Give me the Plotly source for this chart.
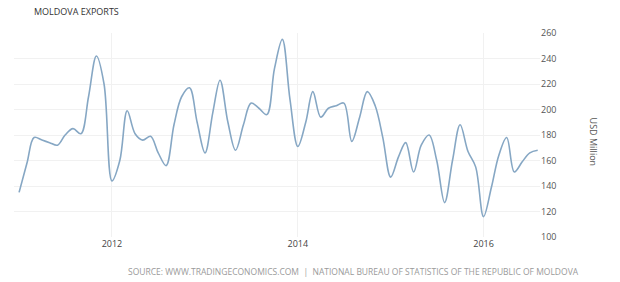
import plotly.graph_objects as go
import pandas as pd

months = pd.date_range("2011-01-01", "2016-08-01", freq="MS")
exports = [
    135, 158, 178, 176, 174, 172, 180, 185, 181, 210, 242, 220,   # 2011
    144, 160, 199, 181, 176, 179, 166, 156, 188, 210, 217, 190,   # 2012
    166, 198, 223, 190, 168, 188, 205, 201, 196, 232, 255, 208,   # 2013
    171, 190, 214, 194, 201, 203, 205, 175, 194, 214, 203, 178,   # 2014
    147, 163, 174, 151, 172, 180, 160, 127, 160, 188, 167, 155,   # 2015
    116, 139, 164, 178, 151, 159, 166, 168,                       # 2016
]
y_ticks = [100, 120, 140, 160, 180, 200, 220, 240, 260]
x_ticks = ["2012-01-01", "2014-01-01", "2016-01-01"]
x_labels = ["2012", "2014", "2016"]

fig = go.Figure()
fig.add_trace(go.Scatter(
    x=months, y=exports, mode="lines",
    line=dict(color="#86a7c4", width=1.6, shape="spline", smoothing=1.0),
    hoverinfo="skip",
))

fig.update_layout(
    width=620, height=282,
    margin=dict(l=14, r=80, t=33, b=45),
    paper_bgcolor="white", plot_bgcolor="white",
    showlegend=False,
    font=dict(family="Open Sans, DejaVu Sans, sans-serif", size=9, color="#555"),
    xaxis=dict(
        range=["2010-12-12", "2016-08-10"],
        tickvals=x_ticks, ticktext=x_labels,
        showgrid=True, gridcolor="#f1f1f1", gridwidth=1,
        zeroline=False, showline=False, ticks="",
        tickfont=dict(size=9, color="#444"),
    ),
    yaxis=dict(
        range=[100, 260], side="right",
        tickvals=y_ticks,
        showgrid=True, gridcolor="#f1f1f1", gridwidth=1,
        zeroline=False, showline=False, ticks="",
        tickfont=dict(size=9, color="#555"),
    ),
    annotations=[
        dict(text="MOLDOVA EXPORTS", xref="paper", yref="paper",
             x=0.034, y=1.103, xanchor="left", yanchor="middle",
             showarrow=False, font=dict(size=9, color="#333")),
        dict(text="USD Million", xref="paper", yref="paper",
             x=1.101, y=0.467, xanchor="center", yanchor="middle",
             textangle=90, showarrow=False, font=dict(size=9, color="#555")),
        dict(text="SOURCE: WWW.TRADINGECONOMICS.COM  |  NATIONAL BUREAU OF STATISTICS OF THE REPUBLIC OF MOLDOVA",
             xref="paper", yref="paper", x=0.646, y=-0.167,
             xanchor="center", yanchor="middle",
             showarrow=False, font=dict(size=8.5, color="#9a9a9a")),
    ],
)

fig.write_html("out.html")
